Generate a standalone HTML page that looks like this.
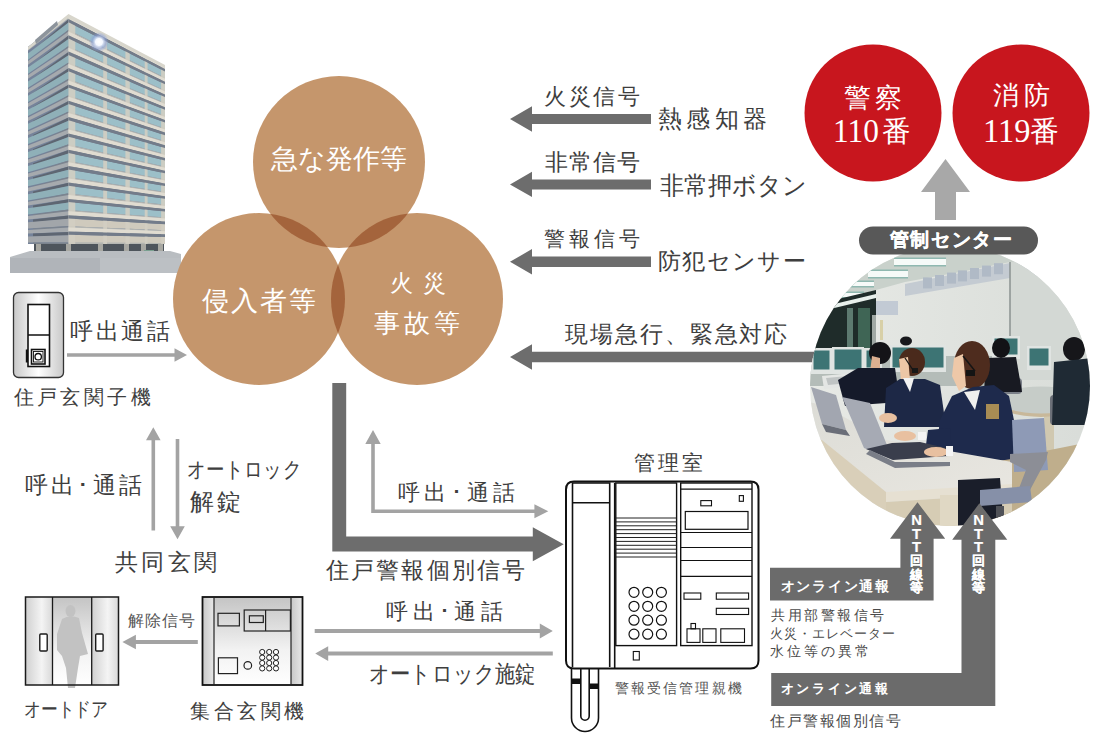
<!DOCTYPE html>
<html lang="ja"><head><meta charset="utf-8"><title>diagram</title>
<style>
html,body{margin:0;padding:0;background:#fff;}
#root{position:relative;width:1100px;height:746px;overflow:hidden;background:#fff;}
#root div{position:absolute;line-height:1;white-space:nowrap;}
#root div span{display:inline-block;}
#root div.v{width:20px;text-align:center;color:#fff;font-weight:bold;-webkit-text-stroke:0.2px #fff;font-family:"Liberation Sans",sans-serif;}
</style></head><body><div id="root">
<svg width="1100" height="746" viewBox="0 0 1100 746" style="position:absolute;left:0;top:0">
<defs><clipPath id="cT"><circle cx="339" cy="162" r="86"/></clipPath><clipPath id="cL"><circle cx="259" cy="299" r="86"/></clipPath><linearGradient id="gpanel" x1="0" y1="0" x2="1" y2="0"><stop offset="0" stop-color="#c8c8c8"/><stop offset="0.5" stop-color="#ffffff"/><stop offset="1" stop-color="#c8c8c8"/></linearGradient><linearGradient id="gdoor" x1="0" y1="0" x2="1" y2="0"><stop offset="0" stop-color="#d0d0d0"/><stop offset="0.6" stop-color="#f4f4f4"/><stop offset="1" stop-color="#d8d8d8"/></linearGradient><linearGradient id="gmid" x1="0" y1="0" x2="0" y2="1"><stop offset="0" stop-color="#c4c4c4"/><stop offset="0.6" stop-color="#f2f2f2"/><stop offset="1" stop-color="#ffffff"/></linearGradient><linearGradient id="gside" x1="0" y1="0" x2="1" y2="0"><stop offset="0" stop-color="#c8c8c8"/><stop offset="1" stop-color="#e8e8e8"/></linearGradient></defs>
<defs><radialGradient id="flare"><stop offset="0" stop-color="#ffffff"/><stop offset="0.35" stop-color="#f4f8ff"/><stop offset="0.7" stop-color="#8aa0d8" stop-opacity="0.6"/><stop offset="1" stop-color="#8aa0d8" stop-opacity="0"/></radialGradient></defs>
<polygon points="68.5,15 165,66 165,244 68.5,244" fill="#7b8aa0"/>
<polygon points="28,47 68.5,15 68.5,244 28,244" fill="#75839a"/>
<polygon points="68.5,15.0 165.0,66.0 165.0,69.1 68.5,18.9" fill="#dedacf"/>
<polygon points="68.5,18.9 165.0,69.1 165.0,71.6 68.5,22.2" fill="#6f7886"/>
<polygon points="68.5,22.2 165.0,71.6 165.0,77.7 68.5,30.0" fill="#9cbfc8"/>
<polygon points="68.5,30.0 165.0,77.7 165.0,78.7 68.5,31.4" fill="#b4b6b2"/>
<polygon points="28.0,47.0 68.5,15.0 68.5,19.3 28.0,50.7" fill="#a6aaae"/>
<polygon points="33.0,50.7 68.5,19.3 68.5,22.5 33.0,53.5" fill="#5e6672"/>
<polygon points="28.0,53.5 68.5,22.5 68.5,29.7 28.0,59.7" fill="#8fb0b8"/>
<polygon points="33.0,59.7 68.5,29.7 68.5,31.4 33.0,61.1" fill="#7c848e"/>
<polygon points="68.5,31.4 165.0,78.7 165.0,81.8 68.5,35.3" fill="#dedacf"/>
<polygon points="68.5,35.3 165.0,81.8 165.0,84.3 68.5,38.6" fill="#6f7886"/>
<polygon points="68.5,38.6 165.0,84.3 165.0,90.4 68.5,46.4" fill="#9cbfc8"/>
<polygon points="68.5,46.4 165.0,90.4 165.0,91.4 68.5,47.7" fill="#b4b6b2"/>
<polygon points="28.0,61.1 68.5,31.4 68.5,35.6 28.0,64.7" fill="#a6aaae"/>
<polygon points="33.0,64.7 68.5,35.6 68.5,38.9 33.0,67.5" fill="#5e6672"/>
<polygon points="28.0,67.5 68.5,38.9 68.5,46.1 28.0,73.7" fill="#8fb0b8"/>
<polygon points="33.0,73.7 68.5,46.1 68.5,47.7 33.0,75.1" fill="#7c848e"/>
<polygon points="68.5,47.7 165.0,91.4 165.0,94.5 68.5,51.6" fill="#dedacf"/>
<polygon points="68.5,51.6 165.0,94.5 165.0,97.0 68.5,54.9" fill="#6f7886"/>
<polygon points="68.5,54.9 165.0,97.0 165.0,103.1 68.5,62.8" fill="#9cbfc8"/>
<polygon points="68.5,62.8 165.0,103.1 165.0,104.1 68.5,64.1" fill="#b4b6b2"/>
<polygon points="28.0,75.1 68.5,47.7 68.5,52.0 28.0,78.8" fill="#a6aaae"/>
<polygon points="33.0,78.8 68.5,52.0 68.5,55.2 33.0,81.6" fill="#5e6672"/>
<polygon points="28.0,81.6 68.5,55.2 68.5,62.4 28.0,87.8" fill="#8fb0b8"/>
<polygon points="33.0,87.8 68.5,62.4 68.5,64.1 33.0,89.2" fill="#7c848e"/>
<polygon points="68.5,64.1 165.0,104.1 165.0,107.2 68.5,68.0" fill="#dedacf"/>
<polygon points="68.5,68.0 165.0,107.2 165.0,109.7 68.5,71.3" fill="#6f7886"/>
<polygon points="68.5,71.3 165.0,109.7 165.0,115.8 68.5,79.1" fill="#9cbfc8"/>
<polygon points="68.5,79.1 165.0,115.8 165.0,116.9 68.5,80.4" fill="#b4b6b2"/>
<polygon points="28.0,89.2 68.5,64.1 68.5,68.3 28.0,92.9" fill="#a6aaae"/>
<polygon points="33.0,92.9 68.5,68.3 68.5,71.6 33.0,95.7" fill="#5e6672"/>
<polygon points="28.0,95.7 68.5,71.6 68.5,78.8 28.0,101.9" fill="#8fb0b8"/>
<polygon points="33.0,101.9 68.5,78.8 68.5,80.4 33.0,103.3" fill="#7c848e"/>
<polygon points="68.5,80.4 165.0,116.9 165.0,119.9 68.5,84.4" fill="#dedacf"/>
<polygon points="68.5,84.4 165.0,119.9 165.0,122.5 68.5,87.6" fill="#6f7886"/>
<polygon points="68.5,87.6 165.0,122.5 165.0,128.6 68.5,95.5" fill="#9cbfc8"/>
<polygon points="68.5,95.5 165.0,128.6 165.0,129.6 68.5,96.8" fill="#b4b6b2"/>
<polygon points="28.0,103.3 68.5,80.4 68.5,84.7 28.0,106.9" fill="#a6aaae"/>
<polygon points="33.0,106.9 68.5,84.7 68.5,88.0 33.0,109.8" fill="#5e6672"/>
<polygon points="28.0,109.8 68.5,88.0 68.5,95.2 28.0,116.0" fill="#8fb0b8"/>
<polygon points="33.0,116.0 68.5,95.2 68.5,96.8 33.0,117.4" fill="#7c848e"/>
<polygon points="68.5,96.8 165.0,129.6 165.0,132.6 68.5,100.7" fill="#dedacf"/>
<polygon points="68.5,100.7 165.0,132.6 165.0,135.2 68.5,104.0" fill="#6f7886"/>
<polygon points="68.5,104.0 165.0,135.2 165.0,141.3 68.5,111.8" fill="#9cbfc8"/>
<polygon points="68.5,111.8 165.0,141.3 165.0,142.3 68.5,113.1" fill="#b4b6b2"/>
<polygon points="28.0,117.4 68.5,96.8 68.5,101.0 28.0,121.0" fill="#a6aaae"/>
<polygon points="33.0,121.0 68.5,101.0 68.5,104.3 33.0,123.8" fill="#5e6672"/>
<polygon points="28.0,123.8 68.5,104.3 68.5,111.5 28.0,130.0" fill="#8fb0b8"/>
<polygon points="33.0,130.0 68.5,111.5 68.5,113.1 33.0,131.4" fill="#7c848e"/>
<polygon points="68.5,113.1 165.0,142.3 165.0,145.3 68.5,117.1" fill="#dedacf"/>
<polygon points="68.5,117.1 165.0,145.3 165.0,147.9 68.5,120.3" fill="#6f7886"/>
<polygon points="68.5,120.3 165.0,147.9 165.0,154.0 68.5,128.2" fill="#9cbfc8"/>
<polygon points="68.5,128.2 165.0,154.0 165.0,155.0 68.5,129.5" fill="#b4b6b2"/>
<polygon points="28.0,131.4 68.5,113.1 68.5,117.4 28.0,135.1" fill="#a6aaae"/>
<polygon points="33.0,135.1 68.5,117.4 68.5,120.7 33.0,137.9" fill="#5e6672"/>
<polygon points="28.0,137.9 68.5,120.7 68.5,127.9 28.0,144.1" fill="#8fb0b8"/>
<polygon points="33.0,144.1 68.5,127.9 68.5,129.5 33.0,145.5" fill="#7c848e"/>
<polygon points="68.5,129.5 165.0,155.0 165.0,158.1 68.5,133.4" fill="#dedacf"/>
<polygon points="68.5,133.4 165.0,158.1 165.0,160.6 68.5,136.7" fill="#6f7886"/>
<polygon points="68.5,136.7 165.0,160.6 165.0,166.7 68.5,144.5" fill="#9cbfc8"/>
<polygon points="68.5,144.5 165.0,166.7 165.0,167.7 68.5,145.9" fill="#b4b6b2"/>
<polygon points="28.0,145.5 68.5,129.5 68.5,133.8 28.0,149.2" fill="#a6aaae"/>
<polygon points="33.0,149.2 68.5,133.8 68.5,137.0 33.0,152.0" fill="#5e6672"/>
<polygon points="28.0,152.0 68.5,137.0 68.5,144.2 28.0,158.2" fill="#8fb0b8"/>
<polygon points="33.0,158.2 68.5,144.2 68.5,145.9 33.0,159.6" fill="#7c848e"/>
<polygon points="68.5,145.9 165.0,167.7 165.0,170.8 68.5,149.8" fill="#dedacf"/>
<polygon points="68.5,149.8 165.0,170.8 165.0,173.3 68.5,153.1" fill="#6f7886"/>
<polygon points="68.5,153.1 165.0,173.3 165.0,179.4 68.5,160.9" fill="#9cbfc8"/>
<polygon points="68.5,160.9 165.0,179.4 165.0,180.4 68.5,162.2" fill="#b4b6b2"/>
<polygon points="28.0,159.6 68.5,145.9 68.5,150.1 28.0,163.2" fill="#a6aaae"/>
<polygon points="33.0,163.2 68.5,150.1 68.5,153.4 33.0,166.0" fill="#5e6672"/>
<polygon points="28.0,166.0 68.5,153.4 68.5,160.6 28.0,172.2" fill="#8fb0b8"/>
<polygon points="33.0,172.2 68.5,160.6 68.5,162.2 33.0,173.6" fill="#7c848e"/>
<polygon points="68.5,162.2 165.0,180.4 165.0,183.5 68.5,166.1" fill="#dedacf"/>
<polygon points="68.5,166.1 165.0,183.5 165.0,186.0 68.5,169.4" fill="#6f7886"/>
<polygon points="68.5,169.4 165.0,186.0 165.0,192.1 68.5,177.3" fill="#9cbfc8"/>
<polygon points="68.5,177.3 165.0,192.1 165.0,193.1 68.5,178.6" fill="#b4b6b2"/>
<polygon points="28.0,173.6 68.5,162.2 68.5,166.5 28.0,177.3" fill="#a6aaae"/>
<polygon points="33.0,177.3 68.5,166.5 68.5,169.7 33.0,180.1" fill="#5e6672"/>
<polygon points="28.0,180.1 68.5,169.7 68.5,176.9 28.0,186.3" fill="#8fb0b8"/>
<polygon points="33.0,186.3 68.5,176.9 68.5,178.6 33.0,187.7" fill="#7c848e"/>
<polygon points="68.5,178.6 165.0,193.1 165.0,196.2 68.5,182.5" fill="#dedacf"/>
<polygon points="68.5,182.5 165.0,196.2 165.0,198.7 68.5,185.8" fill="#6f7886"/>
<polygon points="68.5,185.8 165.0,198.7 165.0,204.8 68.5,193.6" fill="#9cbfc8"/>
<polygon points="68.5,193.6 165.0,204.8 165.0,205.9 68.5,194.9" fill="#b4b6b2"/>
<polygon points="28.0,187.7 68.5,178.6 68.5,182.8 28.0,191.4" fill="#a6aaae"/>
<polygon points="33.0,191.4 68.5,182.8 68.5,186.1 33.0,194.2" fill="#5e6672"/>
<polygon points="28.0,194.2 68.5,186.1 68.5,193.3 28.0,200.4" fill="#8fb0b8"/>
<polygon points="33.0,200.4 68.5,193.3 68.5,194.9 33.0,201.8" fill="#7c848e"/>
<polygon points="68.5,194.9 165.0,205.9 165.0,208.9 68.5,198.9" fill="#dedacf"/>
<polygon points="68.5,198.9 165.0,208.9 165.0,211.5 68.5,202.1" fill="#6f7886"/>
<polygon points="68.5,202.1 165.0,211.5 165.0,217.6 68.5,210.0" fill="#9cbfc8"/>
<polygon points="68.5,210.0 165.0,217.6 165.0,218.6 68.5,211.3" fill="#b4b6b2"/>
<polygon points="28.0,201.8 68.5,194.9 68.5,199.2 28.0,205.4" fill="#a6aaae"/>
<polygon points="33.0,205.4 68.5,199.2 68.5,202.5 33.0,208.3" fill="#5e6672"/>
<polygon points="28.0,208.3 68.5,202.5 68.5,209.6 28.0,214.4" fill="#8fb0b8"/>
<polygon points="33.0,214.4 68.5,209.6 68.5,211.3 33.0,215.9" fill="#7c848e"/>
<polygon points="68.5,211.3 165.0,218.6 165.0,221.6 68.5,215.2" fill="#dedacf"/>
<polygon points="68.5,215.2 165.0,221.6 165.0,224.2 68.5,218.5" fill="#6f7886"/>
<polygon points="68.5,218.5 165.0,224.2 165.0,230.3 68.5,226.3" fill="#cfcabd"/>
<polygon points="68.5,226.3 165.0,230.3 165.0,231.3 68.5,227.6" fill="#b4b6b2"/>
<polygon points="28.0,215.9 68.5,211.3 68.5,215.5 28.0,219.5" fill="#a6aaae"/>
<polygon points="33.0,219.5 68.5,215.5 68.5,218.8 33.0,222.3" fill="#5e6672"/>
<polygon points="28.0,222.3 68.5,218.8 68.5,226.0 28.0,228.5" fill="#a2a6aa"/>
<polygon points="33.0,228.5 68.5,226.0 68.5,227.6 33.0,229.9" fill="#7c848e"/>
<polygon points="68.5,227.6 165.0,231.3 165.0,234.3 68.5,231.6" fill="#dedacf"/>
<polygon points="68.5,231.6 165.0,234.3 165.0,236.9 68.5,234.8" fill="#6f7886"/>
<polygon points="68.5,234.8 165.0,236.9 165.0,243.0 68.5,242.7" fill="#cfcabd"/>
<polygon points="68.5,242.7 165.0,243.0 165.0,244.0 68.5,244.0" fill="#b4b6b2"/>
<polygon points="28.0,229.9 68.5,227.6 68.5,231.9 28.0,233.6" fill="#a6aaae"/>
<polygon points="33.0,233.6 68.5,231.9 68.5,235.2 33.0,236.4" fill="#5e6672"/>
<polygon points="28.0,236.4 68.5,235.2 68.5,242.4 28.0,242.6" fill="#a2a6aa"/>
<polygon points="33.0,242.6 68.5,242.4 68.5,244.0 33.0,244.0" fill="#7c848e"/>
<polygon points="68.5,15.0 75.3,18.6 75.3,244 68.5,244" fill="#d2cec2" opacity="0.9"/>
<polygon points="103.2,33.4 107.1,35.4 107.1,244 103.2,244" fill="#d2cec2" opacity="0.9"/>
<polygon points="125.4,45.1 129.8,47.4 129.8,244 125.4,244" fill="#d2cec2" opacity="0.9"/>
<polygon points="144.7,55.3 147.6,56.8 147.6,244 144.7,244" fill="#d2cec2" opacity="0.9"/>
<polygon points="161.1,64.0 165.0,66.0 165.0,244 161.1,244" fill="#d2cec2" opacity="0.9"/>
<polygon points="68.5,15.0 165.0,66.0 165.0,69.1 68.5,18.9" fill="#e0dcd1"/>
<polygon points="68.5,18.9 165.0,69.1 165.0,71.6 68.5,22.2" fill="#737c8a"/>
<polygon points="68.5,31.4 165.0,78.7 165.0,81.8 68.5,35.3" fill="#e0dcd1"/>
<polygon points="68.5,35.3 165.0,81.8 165.0,84.3 68.5,38.6" fill="#737c8a"/>
<polygon points="68.5,47.7 165.0,91.4 165.0,94.5 68.5,51.6" fill="#e0dcd1"/>
<polygon points="68.5,51.6 165.0,94.5 165.0,97.0 68.5,54.9" fill="#737c8a"/>
<polygon points="68.5,64.1 165.0,104.1 165.0,107.2 68.5,68.0" fill="#e0dcd1"/>
<polygon points="68.5,68.0 165.0,107.2 165.0,109.7 68.5,71.3" fill="#737c8a"/>
<polygon points="68.5,80.4 165.0,116.9 165.0,119.9 68.5,84.4" fill="#e0dcd1"/>
<polygon points="68.5,84.4 165.0,119.9 165.0,122.5 68.5,87.6" fill="#737c8a"/>
<polygon points="68.5,96.8 165.0,129.6 165.0,132.6 68.5,100.7" fill="#e0dcd1"/>
<polygon points="68.5,100.7 165.0,132.6 165.0,135.2 68.5,104.0" fill="#737c8a"/>
<polygon points="68.5,113.1 165.0,142.3 165.0,145.3 68.5,117.1" fill="#e0dcd1"/>
<polygon points="68.5,117.1 165.0,145.3 165.0,147.9 68.5,120.3" fill="#737c8a"/>
<polygon points="68.5,129.5 165.0,155.0 165.0,158.1 68.5,133.4" fill="#e0dcd1"/>
<polygon points="68.5,133.4 165.0,158.1 165.0,160.6 68.5,136.7" fill="#737c8a"/>
<polygon points="68.5,145.9 165.0,167.7 165.0,170.8 68.5,149.8" fill="#e0dcd1"/>
<polygon points="68.5,149.8 165.0,170.8 165.0,173.3 68.5,153.1" fill="#737c8a"/>
<polygon points="68.5,162.2 165.0,180.4 165.0,183.5 68.5,166.1" fill="#e0dcd1"/>
<polygon points="68.5,166.1 165.0,183.5 165.0,186.0 68.5,169.4" fill="#737c8a"/>
<polygon points="68.5,178.6 165.0,193.1 165.0,196.2 68.5,182.5" fill="#e0dcd1"/>
<polygon points="68.5,182.5 165.0,196.2 165.0,198.7 68.5,185.8" fill="#737c8a"/>
<polygon points="68.5,194.9 165.0,205.9 165.0,208.9 68.5,198.9" fill="#e0dcd1"/>
<polygon points="68.5,198.9 165.0,208.9 165.0,211.5 68.5,202.1" fill="#737c8a"/>
<polygon points="68.5,211.3 165.0,218.6 165.0,221.6 68.5,215.2" fill="#e0dcd1"/>
<polygon points="68.5,215.2 165.0,221.6 165.0,224.2 68.5,218.5" fill="#737c8a"/>
<polygon points="68.5,227.6 165.0,231.3 165.0,234.3 68.5,231.6" fill="#e0dcd1"/>
<polygon points="68.5,231.6 165.0,234.3 165.0,236.9 68.5,234.8" fill="#737c8a"/>
<polygon points="28,47 68.5,14 165,65 165,68 68.5,18 28,50" fill="#d8d6cc"/>
<polygon points="35,40 57,21 58,25 36,44" fill="#8d949c"/>
<circle cx="99" cy="42" r="10" fill="url(#flare)"/>
<rect x="34" y="244" width="130" height="14" fill="#4e555c"/>
<rect x="36" y="244" width="5" height="14" fill="#a8a8a2"/>
<rect x="66" y="244" width="5" height="14" fill="#a8a8a2"/>
<rect x="98" y="244" width="5" height="14" fill="#a8a8a2"/>
<rect x="124" y="244" width="5" height="14" fill="#a8a8a2"/>
<rect x="141" y="244" width="5" height="14" fill="#a8a8a2"/>
<rect x="158" y="244" width="5" height="14" fill="#a8a8a2"/>
<rect x="144" y="250" width="10" height="6" fill="#7aa090"/>
<rect x="110" y="252" width="18" height="5" fill="#c84040"/>
<polygon points="10,257 30,251 170,251 181,254 181,273 10,273" fill="#b9bdc1"/>
<rect x="10" y="258" width="171" height="15" fill="#b0b4b9"/>
<rect x="100" y="258" width="81" height="15" fill="#bcc0c4"/>
<circle cx="339" cy="162" r="86" fill="#c5966c"/>
<circle cx="259" cy="299" r="86" fill="#c5966c"/>
<circle cx="417" cy="299" r="86" fill="#c5966c"/>
<g clip-path="url(#cT)"><circle cx="259" cy="299" r="86" fill="#a4643c"/><circle cx="417" cy="299" r="86" fill="#a4643c"/></g>
<g clip-path="url(#cL)"><circle cx="417" cy="299" r="86" fill="#a4643c"/></g>
<polygon points="651,114.0 532,114.0 532,106.3 510,119 532,131.7 532,124.0 651,124.0" fill="#6d6d6d"/>
<polygon points="651,179.4 532,179.4 532,171.70000000000002 510,184.4 532,197.1 532,189.4 651,189.4" fill="#6d6d6d"/>
<polygon points="651,256.55 532,256.55 532,249.10000000000002 510,261.8 532,274.5 532,267.05 651,267.05" fill="#6d6d6d"/>
<polygon points="830,351.85 532,351.85 532,344.2 510,357 532,369.8 532,362.15 830,362.15" fill="#6d6d6d"/>
<circle cx="873" cy="113" r="68.5" fill="#c8161e"/>
<circle cx="1021" cy="113" r="68.5" fill="#c8161e"/>
<polygon points="935.0,220 935.0,192 921.0,192 945.5,159 970.0,192 956.0,192 956.0,220" fill="#a8a8a8"/>
<defs><clipPath id="pc"><circle cx="950" cy="386" r="140"/></clipPath><linearGradient id="deskg" x1="0" y1="0" x2="1" y2="1"><stop offset="0" stop-color="#dcdcd6"/><stop offset="1" stop-color="#e8e6e0"/></linearGradient><linearGradient id="wallg" x1="0" y1="0" x2="1" y2="0"><stop offset="0" stop-color="#e8eae6"/><stop offset="1" stop-color="#d8dcd8"/></linearGradient></defs>
<g clip-path="url(#pc)">
<rect x="800" y="240" width="300" height="300" fill="url(#wallg)"/>
<polygon points="800,240 1100,240 1100,266 1010,262 960,272 905,282 876,290 816,306 800,310" fill="#c9d1cb" />
<rect x="894" y="257.5" width="52" height="9" fill="#8fb8b0"/>
<rect x="894" y="259" width="52" height="6" fill="#f6faf8"/>
<rect x="868" y="269.5" width="40" height="9" fill="#8fb8b0"/>
<rect x="868" y="271" width="40" height="6" fill="#f6faf8"/>
<rect x="850" y="280.5" width="24" height="7" fill="#8fb8b0"/>
<rect x="850" y="282" width="24" height="4" fill="#f6faf8"/>
<rect x="842" y="291.5" width="22" height="7" fill="#8fb8b0"/>
<rect x="842" y="293" width="22" height="4" fill="#f6faf8"/>
<rect x="846" y="298.5" width="30" height="7" fill="#8fb8b0"/>
<rect x="846" y="300" width="30" height="4" fill="#f6faf8"/>
<polygon points="905,284 1010,263 1060,262 1060,276 1010,278 905,296" fill="#c4cbd2" />
<rect x="923" y="277.4" width="9" height="11" fill="#b0bac6"/>
<rect x="935" y="275.0" width="9" height="11" fill="#b0bac6"/>
<rect x="947" y="272.6" width="9" height="11" fill="#b0bac6"/>
<rect x="958" y="270.4" width="9" height="11" fill="#b0bac6"/>
<rect x="970" y="268.0" width="9" height="11" fill="#b0bac6"/>
<rect x="982" y="265.6" width="9" height="11" fill="#b0bac6"/>
<rect x="994" y="263.2" width="9" height="11" fill="#b0bac6"/>
<rect x="876" y="301" width="22" height="14" fill="#c2cad4"/>
<polygon points="1010,262 1100,258 1100,380 1010,380" fill="#d3d8d4" />
<line x1="1010" y1="262" x2="1010" y2="345" stroke="#8a9290" stroke-width="1.5"/>
<polygon points="800,308 876,290 876,350 800,358" fill="#1f2c2a" />
<polygon points="826,306 876,294 876,298 826,310" fill="#e8f0ec" />
<rect x="858" y="308" width="12" height="42" fill="#3f6555"/>
<rect x="847" y="308" width="6" height="40" fill="#5d7a70"/>
<rect x="872" y="315" width="4" height="35" fill="#a0a8a4"/>
<rect x="880" y="320" width="3" height="20" fill="#d8d0a8"/>
<rect x="800" y="356" width="200" height="30" fill="#b4bcb8"/>
<rect x="811" y="348" width="21" height="26" fill="#e0e4e2"/>
<rect x="813.5" y="350.5" width="16" height="19" fill="#3d7474"/>
<rect x="832" y="347" width="32" height="27" fill="#e0e4e2"/>
<rect x="834.5" y="349.5" width="27" height="20" fill="#3d7474"/>
<rect x="864" y="348" width="18" height="24" fill="#e0e4e2"/>
<rect x="866.5" y="350.5" width="13" height="17" fill="#3d7474"/>
<rect x="890" y="345" width="56" height="27" fill="#e0e4e2"/>
<rect x="892.5" y="347.5" width="51" height="20" fill="#3d7474"/>
<rect x="992" y="336" width="28" height="23" fill="#e0e4e2"/>
<rect x="994.5" y="338.5" width="23" height="16" fill="#3d7474"/>
<rect x="1027" y="346" width="24" height="24" fill="#e0e4e2"/>
<rect x="1029.5" y="348.5" width="19" height="17" fill="#3d7474"/>
<rect x="1044" y="410" width="10" height="62" fill="#d0c8b0"/>
<ellipse cx="1041" cy="402" rx="44" ry="15" fill="#c8b89a"/>
<ellipse cx="1041" cy="400" rx="43" ry="13.5" fill="#c6ccc8"/>
<polygon points="1000,460 1100,440 1100,540 990,540" fill="#bfae8c" />
<rect x="1000" y="378" width="22" height="16" rx="4" fill="#7a7f88"/>
<rect x="1050" y="395" width="30" height="30" rx="4" fill="#6c7078"/>
<ellipse cx="1001" cy="348" rx="9" ry="10" fill="#121216"/>
<polygon points="986,358 1016,357 1022,392 984,392" fill="#181a22" />
<ellipse cx="1074" cy="349" rx="11" ry="12" fill="#16161a"/>
<polygon points="1054,362 1092,358 1096,425 1052,425" fill="#1f2a34" />
<ellipse cx="906" cy="341" rx="6" ry="4.5" fill="#18181c"/>
<polygon points="822,376 852,373 855,386 824,389" fill="#e4e6e4" />
<polygon points="826,378 848,376 850,383 828,385" fill="#c0c4c4" />
<ellipse cx="880" cy="353" rx="11" ry="11" fill="#141418"/>
<polygon points="872,356 880,358 880,372 870,372" fill="#dcb090" />
<polygon points="838,380 858,368 895,368 900,402 845,406" fill="#151a2a" />
<ellipse cx="912" cy="362" rx="13" ry="14" fill="#4a2a1c"/>
<polygon points="899,359 908,357 910,380 901,380" fill="#ecc6a6" />
<polygon points="886,388 900,379 925,379 940,385 946,427 884,427" fill="#1d2846" />
<polygon points="903,378 914,378 910,392" fill="#f2f2f2" />
<rect x="912" y="368" width="6" height="5" fill="#181818"/>
<ellipse cx="972" cy="365" rx="18" ry="24" fill="#4e2c1e"/>
<polygon points="954,358 963,354 966,386 959,391 952,376" fill="#eec8a8" />
<rect x="966" y="370" width="9" height="6" fill="#141414"/>
<polygon points="952,396 973,387 994,385 1009,396 1016,430 1018,458 985,463 955,459 936,452 940,420" fill="#1e2a4c" />
<polygon points="964,392 980,390 975,410" fill="#f0f0ee" />
<rect x="986" y="404" width="13" height="15" fill="#a88c54"/>
<polygon points="928,430 950,428 952,452 925,452" fill="#1e2a4c" />
<line x1="963" y1="356" x2="975" y2="371" stroke="#151515" stroke-width="1.5"/>
<line x1="905" y1="358" x2="913" y2="370" stroke="#151515" stroke-width="1.3"/>
<polygon points="800,400 822,405 886,440 1012,462 1012,486 886,492 822,440 800,436" fill="url(#deskg)" />
<polygon points="800,436 822,440 886,492 886,540 800,540" fill="#d9cfb9" />
<polygon points="886,492 1012,484 1012,494 886,502" fill="#e6e0d2" />
<polygon points="886,502 1012,494 1012,540 886,540" fill="#d6ccb4" />
<rect x="940" y="495" width="18" height="40" fill="#e0d8c4"/>
<polygon points="958,480 1000,478 1004,530 958,530" fill="#1a1e2a" />
<polygon points="1012,420 1044,418 1048,470 1014,472" fill="#8e9ab6" />
<polygon points="1010,454 1048,452 1046,460 1030,490 1022,500 1016,496 1026,470 1010,462" fill="#8c8e96" />
<polygon points="980,490 1030,486 1032,502 980,506" fill="#8690a8" />
<rect x="996" y="506" width="8" height="20" fill="#505258"/>
<polygon points="811,387 836,395 846,430 822,424" fill="#a2a6b0" />
<polygon points="822,424 846,430 850,436 826,432" fill="#6a6e78" />
<polygon points="842,397 870,403 893,460 864,448" fill="#a6aab4" />
<polygon points="866,449 893,460 948,456 946,448 920,442 892,443" fill="#3a3e4c" />
<polygon points="870,450 895,462 950,462 950,466 895,468 866,454" fill="#7a7e88" />
<ellipse cx="888" cy="418" rx="9" ry="5" fill="#e8c0a0"/>
<ellipse cx="905" cy="436" rx="11" ry="5" fill="#e8c0a0"/>
<ellipse cx="936" cy="452" rx="12" ry="5" fill="#e8c0a0"/>
<rect x="918" y="432" width="8" height="8" fill="#f4f4f4"/>
<rect x="946" y="446" width="7" height="10" fill="#f4f4f4"/>
</g>
<rect x="859" y="226.5" width="179" height="28" rx="14" fill="#585858"/>
<polygon points="770,567.8 900.4,567.8 900.4,538.8 890,538.8 917.5,502.3 945.2,538.8 933.6,538.8 933.6,600.6 770,600.6" fill="#6b6b6b"/>
<polygon points="771.2,673 961.5,673 961.5,539.8 952.2,539.8 979.4,503.3 1007.3,539.8 995.3,539.8 995.3,706 771.2,706" fill="#6b6b6b"/>
<rect x="13.5" y="292.5" width="50" height="85" rx="5" fill="url(#gpanel)" stroke="#333" stroke-width="1.3"/>
<rect x="28" y="304.5" width="21.5" height="62" fill="#fff" stroke="#111" stroke-width="1.6"/>
<line x1="28" y1="335" x2="49.5" y2="335" stroke="#111" stroke-width="1.5"/>
<rect x="31.5" y="349.5" width="13.5" height="14.5" fill="#fff" stroke="#111" stroke-width="1.6"/>
<rect x="33.5" y="351.5" width="9.5" height="10.5" fill="none" stroke="#111" stroke-width="0.9"/>
<circle cx="38.2" cy="356.7" r="3.2" fill="none" stroke="#111" stroke-width="1.3"/>
<rect x="25.8" y="349.5" width="2.2" height="13" fill="#111"/>
<polygon points="67,353.2 174.5,353.2 174.5,348.2 187,355 174.5,361.8 174.5,356.8 67,356.8" fill="#a3a3a3"/>
<polygon points="151.5,530.5 151.5,440.3 146.0,440.3 153.3,427.3 160.60000000000002,440.3 155.10000000000002,440.3 155.10000000000002,530.5" fill="#a3a3a3"/>
<polygon points="175.7,439 175.7,526.3 170.2,526.3 177.5,539.3 184.8,526.3 179.3,526.3 179.3,439" fill="#a3a3a3"/>
<polygon points="197.8,640.1 135.9,640.1 135.9,634.7 122.4,642 135.9,649.3 135.9,643.9 197.8,643.9" fill="#a3a3a3"/>
<rect x="25.5" y="597" width="27" height="88" fill="url(#gdoor)"/>
<rect x="52.5" y="597" width="39" height="88" fill="url(#gmid)"/>
<rect x="91.5" y="597" width="27" height="88" fill="url(#gdoor)"/>
<g fill="#c2c2c2"><ellipse cx="70.5" cy="611" rx="5" ry="6"/><path d="M62,619 Q70,614 79,618 L82,633 L88,654 L80,656 L78,668 L75,688 L68,688 L66,668 L62,656 L57,650 L57,634 Z"/></g>
<rect x="25.5" y="597" width="93" height="88" fill="none" stroke="#1a1a1a" stroke-width="1.5"/>
<line x1="52.5" y1="597" x2="52.5" y2="685" stroke="#1a1a1a" stroke-width="1.3"/>
<line x1="91.7" y1="597" x2="91.7" y2="685" stroke="#1a1a1a" stroke-width="1.3"/>
<rect x="39.8" y="634" width="7.4" height="17" rx="1" fill="#fff" stroke="#1a1a1a" stroke-width="1.4"/>
<rect x="95.7" y="634" width="7.4" height="17" rx="1" fill="#fff" stroke="#1a1a1a" stroke-width="1.4"/>
<rect x="202.5" y="597" width="100" height="88" fill="url(#gmid)"/>
<rect x="202.5" y="597" width="11.5" height="88" fill="url(#gside)"/>
<rect x="291" y="597" width="11.5" height="88" fill="url(#gside)"/>
<rect x="202.5" y="597" width="100" height="88" fill="none" stroke="#111" stroke-width="1.8"/>
<line x1="214" y1="597" x2="214" y2="685" stroke="#222" stroke-width="1.2"/>
<line x1="291" y1="597" x2="291" y2="685" stroke="#222" stroke-width="1.2"/>
<rect x="218" y="613.3" width="21.4" height="12.6" fill="none" stroke="#222" stroke-width="1.2"/>
<rect x="244.2" y="610" width="46.2" height="21" fill="none" stroke="#222" stroke-width="1.2"/>
<line x1="265.6" y1="610" x2="265.6" y2="631" stroke="#222" stroke-width="1.2"/>
<rect x="249.4" y="615.8" width="13.9" height="6.7" fill="none" stroke="#222" stroke-width="1.2"/>
<rect x="218.4" y="657.8" width="19.1" height="15.8" fill="none" stroke="#222" stroke-width="1.2"/>
<circle cx="247.8" cy="665.4" r="3.8" fill="none" stroke="#222" stroke-width="1.2"/>
<circle cx="262.2" cy="652" r="2.6" fill="#fff" stroke="#222" stroke-width="1"/>
<circle cx="262.2" cy="657.6" r="2.6" fill="#fff" stroke="#222" stroke-width="1"/>
<circle cx="262.2" cy="663" r="2.6" fill="#fff" stroke="#222" stroke-width="1"/>
<circle cx="262.2" cy="668.4" r="2.6" fill="#fff" stroke="#222" stroke-width="1"/>
<circle cx="269.2" cy="652" r="2.6" fill="#fff" stroke="#222" stroke-width="1"/>
<circle cx="269.2" cy="657.6" r="2.6" fill="#fff" stroke="#222" stroke-width="1"/>
<circle cx="269.2" cy="663" r="2.6" fill="#fff" stroke="#222" stroke-width="1"/>
<circle cx="269.2" cy="668.4" r="2.6" fill="#fff" stroke="#222" stroke-width="1"/>
<circle cx="276" cy="652" r="2.6" fill="#fff" stroke="#222" stroke-width="1"/>
<circle cx="276" cy="657.6" r="2.6" fill="#fff" stroke="#222" stroke-width="1"/>
<circle cx="276" cy="663" r="2.6" fill="#fff" stroke="#222" stroke-width="1"/>
<circle cx="276" cy="668.4" r="2.6" fill="#fff" stroke="#222" stroke-width="1"/>
<polygon points="332.3,383 346.2,383 346.2,536.6 532.8,536.6 532.8,527.3 563.7,544.3 532.8,561.2 532.8,551.4 332.3,551.4" fill="#6d6d6d"/>
<polygon points="371.2,444 365.3,444 373,430 380.7,444 374.8,444 374.8,509.5 534.4,509.5 534.4,504.3 548.3,511.3 534.4,518.3 534.4,513.1 371.2,513.1" fill="#a3a3a3"/>
<polygon points="314.7,629.0 539.8,629.0 539.8,623.6 552.8,631 539.8,638.4 539.8,633.0 314.7,633.0" fill="#a3a3a3"/>
<polygon points="552.8,651.6 328.2,651.6 328.2,646.2 315.2,653.6 328.2,661.0 328.2,655.6 552.8,655.6" fill="#a3a3a3"/>
<path d="M574,481.5 H750.5 Q758.5,481.5 758.5,489.5 V660.5 Q758.5,668.5 750.5,668.5 H574 Q566,668.5 566,660.5 V489.5 Q566,481.5 574,481.5 Z" fill="#fff" stroke="#111" stroke-width="2"/>
<path d="M572.5,667 V483 H609.7 V667" stroke="#111" fill="none" stroke-width="1.6"/>
<line x1="572.5" y1="502.8" x2="609.7" y2="502.8" stroke="#111" stroke-width="1.6"/>
<line x1="614.7" y1="483" x2="614.7" y2="668" stroke="#111" stroke-width="1.6"/>
<rect x="615.8" y="483" width="60.8" height="162.6" stroke="#111" fill="none" stroke-width="1.4"/>
<line x1="616" y1="518.0" x2="676.5" y2="518.0" stroke="#222" stroke-width="1"/>
<line x1="616" y1="521.9" x2="676.5" y2="521.9" stroke="#222" stroke-width="1"/>
<line x1="616" y1="525.8" x2="676.5" y2="525.8" stroke="#222" stroke-width="1"/>
<line x1="616" y1="529.7" x2="676.5" y2="529.7" stroke="#222" stroke-width="1"/>
<line x1="616" y1="533.6" x2="676.5" y2="533.6" stroke="#222" stroke-width="1"/>
<line x1="616" y1="537.5" x2="676.5" y2="537.5" stroke="#222" stroke-width="1"/>
<line x1="616" y1="541.4" x2="676.5" y2="541.4" stroke="#222" stroke-width="1"/>
<line x1="616" y1="545.3" x2="676.5" y2="545.3" stroke="#222" stroke-width="1"/>
<line x1="616" y1="549.2" x2="676.5" y2="549.2" stroke="#222" stroke-width="1"/>
<line x1="616" y1="553.1" x2="676.5" y2="553.1" stroke="#222" stroke-width="1"/>
<line x1="616" y1="557.0" x2="676.5" y2="557.0" stroke="#222" stroke-width="1"/>
<circle cx="634" cy="592.3" r="5" stroke="#111" fill="none" stroke-width="1.2"/>
<circle cx="634" cy="606.3" r="5" stroke="#111" fill="none" stroke-width="1.2"/>
<circle cx="634" cy="620.2" r="5" stroke="#111" fill="none" stroke-width="1.2"/>
<circle cx="634" cy="634.2" r="5" stroke="#111" fill="none" stroke-width="1.2"/>
<circle cx="647.7" cy="592.3" r="5" stroke="#111" fill="none" stroke-width="1.2"/>
<circle cx="647.7" cy="606.3" r="5" stroke="#111" fill="none" stroke-width="1.2"/>
<circle cx="647.7" cy="620.2" r="5" stroke="#111" fill="none" stroke-width="1.2"/>
<circle cx="647.7" cy="634.2" r="5" stroke="#111" fill="none" stroke-width="1.2"/>
<circle cx="661.4" cy="592.3" r="5" stroke="#111" fill="none" stroke-width="1.2"/>
<circle cx="661.4" cy="606.3" r="5" stroke="#111" fill="none" stroke-width="1.2"/>
<circle cx="661.4" cy="620.2" r="5" stroke="#111" fill="none" stroke-width="1.2"/>
<circle cx="661.4" cy="634.2" r="5" stroke="#111" fill="none" stroke-width="1.2"/>
<rect x="680.7" y="483" width="71.3" height="162.6" stroke="#111" fill="none" stroke-width="1.4"/>
<line x1="680.7" y1="489.2" x2="752" y2="489.2" stroke="#111" stroke-width="1.2"/>
<rect x="700.8" y="500.6" width="10.7" height="5.2" stroke="#111" fill="none" stroke-width="1.1"/>
<rect x="739.3" y="495.6" width="4.1" height="5.7" stroke="#111" fill="none" stroke-width="1.1"/>
<rect x="685.3" y="511.5" width="62.7" height="17.8" stroke="#111" fill="none" stroke-width="1.2"/>
<line x1="680.7" y1="532.5" x2="752" y2="532.5" stroke="#111" stroke-width="1.1"/>
<line x1="680.7" y1="547.5" x2="752" y2="547.5" stroke="#111" stroke-width="1.1"/>
<line x1="680.7" y1="560.5" x2="752" y2="560.5" stroke="#111" stroke-width="1.1"/>
<line x1="680.7" y1="576.4" x2="752" y2="576.4" stroke="#111" stroke-width="1.1"/>
<rect x="684" y="593" width="16.8" height="6.2" stroke="#111" fill="none" stroke-width="1.1"/>
<rect x="716.3" y="593" width="32.3" height="6.2" stroke="#111" fill="none" stroke-width="1.1"/>
<rect x="716.3" y="608.3" width="32.3" height="6.2" stroke="#111" fill="none" stroke-width="1.1"/>
<rect x="687" y="628.8" width="13.0" height="13.6" stroke="#111" fill="none" stroke-width="1.1"/>
<rect x="702.8" y="628.8" width="13.2" height="13.6" stroke="#111" fill="none" stroke-width="1.1"/>
<rect x="720.8" y="628.8" width="23.7" height="13.6" stroke="#111" fill="none" stroke-width="1.1"/>
<rect x="691" y="623.5" width="4.5" height="5.3" stroke="#111" fill="none" stroke-width="1.1"/>
<rect x="633.3" y="651.5" width="6.0" height="8.5" stroke="#111" fill="none" stroke-width="1.1"/>
<path d="M571.5,668 V718 A13.5,13.5 0 0 0 598.5,718 V668" fill="none" stroke="#111" stroke-width="1.6"/>
<path d="M580.8,668 V716 A4.2,4.2 0 0 0 589.2,716 V668" fill="none" stroke="#111" stroke-width="1.6"/>
<rect x="571" y="678.5" width="10" height="5.5" fill="#111"/>
<rect x="589" y="683.5" width="10" height="5.5" fill="#111"/>
</svg>
<div id="t1" style="left:270.64px;top:146.32px;font-size:26.65px;letter-spacing:0.00px;color:#fff;font-weight:normal;font-family:'Liberation Serif', serif"><span style="width:27.11px">急</span><span style="width:28.11px">な</span><span style="width:27.11px">発</span><span style="width:27.11px">作</span><span style="width:27.12px">等</span></div>
<div id="t2" style="left:201.66px;top:288.14px;font-size:26.92px;letter-spacing:0.00px;color:#fff;font-weight:normal;font-family:'Liberation Serif', serif"><span style="width:29.02px">侵</span><span style="width:29.03px">入</span><span style="width:29.03px">者</span><span style="width:29.05px">等</span></div>
<div id="t3" style="left:390.28px;top:273.32px;font-size:22.51px;letter-spacing:0.00px;color:#fff;font-weight:normal;font-family:'Liberation Serif', serif"><span style="width:32.36px">火</span><span style="width:32.38px">災</span></div>
<div id="t4" style="left:373.82px;top:310.88px;font-size:26.34px;letter-spacing:0.00px;color:#fff;font-weight:normal;font-family:'Liberation Serif', serif"><span style="width:30.12px">事</span><span style="width:30.12px">故</span><span style="width:30.14px">等</span></div>
<div id="t5" style="left:544.43px;top:86.05px;font-size:22.38px;letter-spacing:0.00px;color:#3e3e3e;font-weight:normal;font-family:'Liberation Serif', serif"><span style="width:24.36px">火</span><span style="width:24.38px">災</span><span style="width:24.38px">信</span><span style="width:24.38px">号</span></div>
<div id="t6" style="left:658.23px;top:108.38px;font-size:23.82px;letter-spacing:0.00px;color:#3e3e3e;font-weight:normal;font-family:'Liberation Serif', serif"><span style="width:28.14px">熱</span><span style="width:28.16px">感</span><span style="width:28.14px">知</span><span style="width:28.17px">器</span></div>
<div id="t7" style="left:544.50px;top:151.23px;font-size:23.25px;letter-spacing:0.00px;color:#3e3e3e;font-weight:normal;font-family:'Liberation Serif', serif"><span style="width:24.16px">非</span><span style="width:24.17px">常</span><span style="width:24.17px">信</span><span style="width:24.19px">号</span></div>
<div id="t8" style="left:659.73px;top:173.58px;font-size:24.77px;letter-spacing:0.00px;color:#3e3e3e;font-weight:normal;font-family:'Liberation Serif', serif;transform:scaleX(0.9643);transform-origin:0 0"><span style="width:25.00px">非</span><span style="width:25.00px">常</span><span style="width:25.00px">押</span><span style="width:26.00px">ボ</span><span style="width:26.00px">タ</span><span style="width:26.00px">ン</span></div>
<div id="t9" style="left:543.97px;top:229.28px;font-size:20.69px;letter-spacing:0.00px;color:#3e3e3e;font-weight:normal;font-family:'Liberation Serif', serif"><span style="width:25.09px">警</span><span style="width:25.09px">報</span><span style="width:25.11px">信</span><span style="width:25.11px">号</span></div>
<div id="t10" style="left:657.88px;top:250.02px;font-size:23.49px;letter-spacing:0.00px;color:#3e3e3e;font-weight:normal;font-family:'Liberation Serif', serif"><span style="width:24.36px">防</span><span style="width:24.36px">犯</span><span style="width:25.36px">セ</span><span style="width:25.36px">ン</span><span style="width:25.36px">サ</span><span style="width:24.38px">ー</span></div>
<div id="t11" style="left:565.29px;top:324.43px;font-size:22.63px;letter-spacing:0.00px;color:#3e3e3e;font-weight:normal;font-family:'Liberation Serif', serif"><span style="width:24.86px">現</span><span style="width:24.88px">場</span><span style="width:24.88px">急</span><span style="width:24.86px">行</span><span style="width:24.88px">、</span><span style="width:24.88px">緊</span><span style="width:24.86px">急</span><span style="width:24.88px">対</span><span style="width:24.89px">応</span></div>
<div id="t12" style="left:843.59px;top:84.56px;font-size:26.58px;letter-spacing:0.00px;color:#fff;font-weight:normal;font-family:'Liberation Serif', serif"><span style="width:31.47px">警</span><span style="width:31.50px">察</span></div>
<div id="t13" style="left:833.49px;top:113.83px;font-size:34.70px;letter-spacing:0.00px;color:#fff;font-weight:normal;font-family:'Liberation Serif', serif;transform:scaleX(0.9038);transform-origin:0 0"><span style="width:16.05px">1</span><span style="width:17.34px">1</span><span style="width:17.36px">0</span></div>
<div id="t13b" style="left:881.65px;top:118.13px;font-size:28.59px;letter-spacing:0.00px;color:#fff;font-weight:normal;font-family:'Liberation Serif', serif;transform:scaleX(0.9906);transform-origin:0 0"><span style="width:29.00px">番</span></div>
<div id="t14" style="left:993.28px;top:82.35px;font-size:26.40px;letter-spacing:0.00px;color:#fff;font-weight:normal;font-family:'Liberation Serif', serif"><span style="width:31.16px">消</span><span style="width:31.17px">防</span></div>
<div id="t15" style="left:983.09px;top:113.83px;font-size:34.70px;letter-spacing:0.00px;color:#fff;font-weight:normal;font-family:'Liberation Serif', serif;transform:scaleX(0.9332);transform-origin:0 0"><span style="width:16.05px">1</span><span style="width:17.34px">1</span><span style="width:17.36px">9</span></div>
<div id="t15b" style="left:1030.35px;top:118.13px;font-size:28.59px;letter-spacing:0.00px;color:#fff;font-weight:normal;font-family:'Liberation Serif', serif;transform:scaleX(0.9988);transform-origin:0 0"><span style="width:29.00px">番</span></div>
<div id="t16" style="left:889.77px;top:230.58px;font-size:18.56px;letter-spacing:0.00px;color:#fff;font-weight:bold;font-family:'Liberation Sans', sans-serif;-webkit-text-stroke:0.3px #fff"><span style="width:20.66px">管</span><span style="width:20.67px">制</span><span style="width:20.67px">セ</span><span style="width:20.67px">ン</span><span style="width:20.67px">タ</span><span style="width:20.69px">ー</span></div>
<div id="t17" style="left:70.19px;top:320.32px;font-size:23.36px;letter-spacing:0.00px;color:#3e3e3e;font-weight:normal;font-family:'Liberation Serif', serif"><span style="width:25.45px">呼</span><span style="width:25.45px">出</span><span style="width:25.47px">通</span><span style="width:25.47px">話</span></div>
<div id="t18" style="left:13.77px;top:388.28px;font-size:19.65px;letter-spacing:0.00px;color:#3e3e3e;font-weight:normal;font-family:'Liberation Serif', serif"><span style="width:23.36px">住</span><span style="width:23.36px">戸</span><span style="width:23.36px">玄</span><span style="width:23.36px">関</span><span style="width:23.36px">子</span><span style="width:23.38px">機</span></div>
<div id="t19" style="left:25.01px;top:475.04px;font-size:22.72px;letter-spacing:0.00px;color:#3e3e3e;font-weight:normal;font-family:'Liberation Serif', serif"><span style="width:26.19px">呼</span><span style="width:26.19px">出</span><span style="width:15.19px">･</span><span style="width:26.19px">通</span><span style="width:26.20px">話</span></div>
<div id="t20" style="left:187.38px;top:459.29px;font-size:22.37px;letter-spacing:0.00px;color:#3e3e3e;font-weight:normal;font-family:'Liberation Serif', serif;transform:scaleX(0.8387);transform-origin:0 0"><span style="width:23.00px">オ</span><span style="width:22.00px">ー</span><span style="width:23.00px">ト</span><span style="width:23.00px">ロ</span><span style="width:23.00px">ッ</span><span style="width:23.00px">ク</span></div>
<div id="t21" style="left:189.80px;top:489.73px;font-size:24.35px;letter-spacing:0.00px;color:#3e3e3e;font-weight:normal;font-family:'Liberation Serif', serif"><span style="width:27.52px">解</span><span style="width:27.53px">錠</span></div>
<div id="t22" style="left:114.81px;top:552.24px;font-size:22.72px;letter-spacing:0.00px;color:#3e3e3e;font-weight:normal;font-family:'Liberation Serif', serif"><span style="width:26.47px">共</span><span style="width:26.48px">同</span><span style="width:26.48px">玄</span><span style="width:26.48px">関</span></div>
<div id="t23" style="left:127.52px;top:611.58px;font-size:16.13px;letter-spacing:0.00px;color:#555;font-weight:normal;font-family:'Liberation Sans', sans-serif"><span style="width:17.19px">解</span><span style="width:17.19px">除</span><span style="width:17.19px">信</span><span style="width:17.20px">号</span></div>
<div id="t24" style="left:24.15px;top:699.34px;font-size:20.15px;letter-spacing:0.00px;color:#3e3e3e;font-weight:normal;font-family:'Liberation Serif', serif;transform:scaleX(0.8405);transform-origin:0 0"><span style="width:20.00px">オ</span><span style="width:20.00px">ー</span><span style="width:20.00px">ト</span><span style="width:20.00px">ド</span><span style="width:20.00px">ア</span></div>
<div id="t25" style="left:190.47px;top:701.78px;font-size:19.65px;letter-spacing:0.00px;color:#3e3e3e;font-weight:normal;font-family:'Liberation Serif', serif"><span style="width:23.44px">集</span><span style="width:23.45px">合</span><span style="width:23.45px">玄</span><span style="width:23.45px">関</span><span style="width:23.45px">機</span></div>
<div id="t26" style="left:397.82px;top:481.54px;font-size:21.99px;letter-spacing:0.00px;color:#3e3e3e;font-weight:normal;font-family:'Liberation Serif', serif"><span style="width:26.61px">呼</span><span style="width:26.61px">出</span><span style="width:15.61px">･</span><span style="width:26.61px">通</span><span style="width:26.62px">話</span></div>
<div id="t27" style="left:325.80px;top:558.73px;font-size:23.25px;letter-spacing:0.00px;color:#3e3e3e;font-weight:normal;font-family:'Liberation Serif', serif"><span style="width:25.20px">住</span><span style="width:25.20px">戸</span><span style="width:25.22px">警</span><span style="width:25.20px">報</span><span style="width:25.22px">個</span><span style="width:25.20px">別</span><span style="width:25.22px">信</span><span style="width:25.22px">号</span></div>
<div id="t28" style="left:386.22px;top:601.45px;font-size:22.28px;letter-spacing:0.00px;color:#3e3e3e;font-weight:normal;font-family:'Liberation Serif', serif"><span style="width:26.42px">呼</span><span style="width:26.44px">出</span><span style="width:15.42px">･</span><span style="width:26.44px">通</span><span style="width:26.44px">話</span></div>
<div id="t29" style="left:368.79px;top:662.33px;font-size:24.00px;letter-spacing:0.00px;color:#3e3e3e;font-weight:normal;font-family:'Liberation Serif', serif;transform:scaleX(0.8454);transform-origin:0 0"><span style="width:25.00px">オ</span><span style="width:24.00px">ー</span><span style="width:25.00px">ト</span><span style="width:25.00px">ロ</span><span style="width:25.00px">ッ</span><span style="width:25.00px">ク</span><span style="width:24.00px">施</span><span style="width:24.00px">錠</span></div>
<div id="t30" style="left:633.75px;top:453.07px;font-size:20.53px;letter-spacing:0.00px;color:#3e3e3e;font-weight:normal;font-family:'Liberation Serif', serif"><span style="width:24.16px">管</span><span style="width:24.17px">理</span><span style="width:24.19px">室</span></div>
<div id="t31" style="left:615.26px;top:681.51px;font-size:13.93px;letter-spacing:0.00px;color:#555;font-weight:normal;font-family:'Liberation Sans', sans-serif"><span style="width:16.05px">警</span><span style="width:16.06px">報</span><span style="width:16.06px">受</span><span style="width:16.06px">信</span><span style="width:16.06px">管</span><span style="width:16.06px">理</span><span style="width:16.05px">親</span><span style="width:16.08px">機</span></div>
<div id="t32" style="left:780.67px;top:579.91px;font-size:13.51px;letter-spacing:0.00px;color:#fff;font-weight:bold;font-family:'Liberation Sans', sans-serif"><span style="width:15.75px">オ</span><span style="width:15.77px">ン</span><span style="width:15.75px">ラ</span><span style="width:15.77px">イ</span><span style="width:15.77px">ン</span><span style="width:15.75px">通</span><span style="width:15.78px">報</span></div>
<div id="t33" style="left:780.64px;top:681.99px;font-size:13.21px;letter-spacing:0.00px;color:#fff;font-weight:bold;font-family:'Liberation Sans', sans-serif"><span style="width:15.72px">オ</span><span style="width:15.72px">ン</span><span style="width:15.72px">ラ</span><span style="width:15.72px">イ</span><span style="width:15.72px">ン</span><span style="width:15.72px">通</span><span style="width:15.73px">報</span></div>
<div id="t34" style="left:771.17px;top:607.81px;font-size:14.14px;letter-spacing:0.00px;color:#4a4a4a;font-weight:normal;font-family:'Liberation Sans', sans-serif"><span style="width:16.50px">共</span><span style="width:16.52px">用</span><span style="width:16.50px">部</span><span style="width:16.52px">警</span><span style="width:16.52px">報</span><span style="width:16.50px">信</span><span style="width:16.53px">号</span></div>
<div id="t35" style="left:770.21px;top:626.74px;font-size:13.18px;letter-spacing:0.00px;color:#4a4a4a;font-weight:normal;font-family:'Liberation Sans', sans-serif"><span style="width:14.02px">火</span><span style="width:14.03px">災</span><span style="width:14.03px">・</span><span style="width:14.03px">エ</span><span style="width:14.03px">レ</span><span style="width:14.03px">ベ</span><span style="width:14.03px">ー</span><span style="width:14.03px">タ</span><span style="width:14.05px">ー</span></div>
<div id="t36" style="left:770.17px;top:644.31px;font-size:14.14px;letter-spacing:0.00px;color:#4a4a4a;font-weight:normal;font-family:'Liberation Sans', sans-serif"><span style="width:16.91px">水</span><span style="width:16.91px">位</span><span style="width:16.91px">等</span><span style="width:16.91px">の</span><span style="width:16.92px">異</span><span style="width:16.92px">常</span></div>
<div id="t37" style="left:770.06px;top:713.11px;font-size:15.00px;letter-spacing:0.00px;color:#4a4a4a;font-weight:normal;font-family:'Liberation Sans', sans-serif"><span style="width:16.52px">住</span><span style="width:16.52px">戸</span><span style="width:16.52px">警</span><span style="width:16.53px">報</span><span style="width:16.52px">個</span><span style="width:16.52px">別</span><span style="width:16.52px">信</span><span style="width:16.55px">号</span></div>
<div class="v" style="left:906.50px;top:513.26px;font-size:14.8px">N</div>
<div class="v" style="left:906.50px;top:527.46px;font-size:14.8px">T</div>
<div class="v" style="left:906.50px;top:540.26px;font-size:14.8px">T</div>
<div class="v" style="left:906.50px;top:554.10px;font-size:13.2px">回</div>
<div class="v" style="left:906.50px;top:567.80px;font-size:13.2px">線</div>
<div class="v" style="left:906.50px;top:580.90px;font-size:13.2px">等</div>
<div class="v" style="left:968.50px;top:513.26px;font-size:14.8px">N</div>
<div class="v" style="left:968.50px;top:527.46px;font-size:14.8px">T</div>
<div class="v" style="left:968.50px;top:540.26px;font-size:14.8px">T</div>
<div class="v" style="left:968.50px;top:554.10px;font-size:13.2px">回</div>
<div class="v" style="left:968.50px;top:567.80px;font-size:13.2px">線</div>
<div class="v" style="left:968.50px;top:580.90px;font-size:13.2px">等</div>
</div></body></html>
